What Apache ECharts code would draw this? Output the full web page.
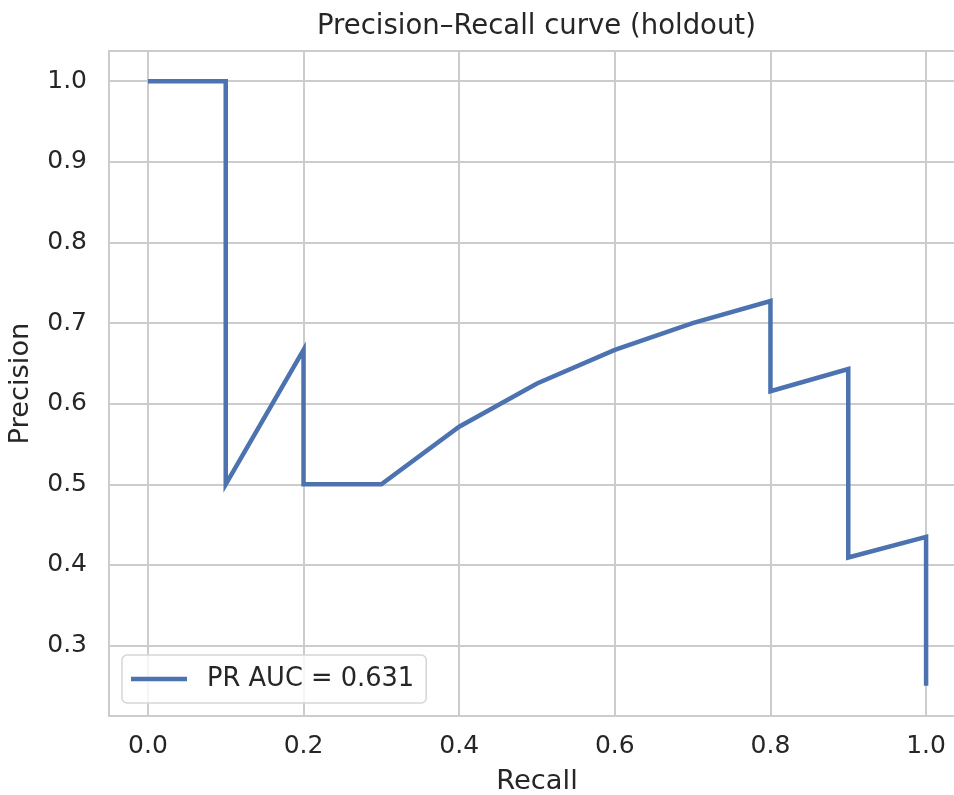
<!DOCTYPE html>
<html>
<head>
<meta charset="utf-8">
<script src="https://cdn.jsdelivr.net/npm/echarts@6/dist/echarts.min.js"></script>
<style>
  html, body { margin: 0; padding: 0; background: #ffffff; }
  #chart { width: 954px; height: 795px; }
</style>
</head>
<body>
<div id="chart"></div>
<script>
// Precision–recall points on the holdout set (recall, precision)
const recall = [0.0, 0.1, 0.1, 0.2, 0.2, 0.3, 0.4, 0.5, 0.6, 0.7, 0.8, 0.8, 0.9, 0.9, 1.0, 1.0];
const precision = [1.0, 1.0, 0.5, 0.6667, 0.5, 0.5, 0.5714, 0.625, 0.6667, 0.7, 0.7273, 0.6154, 0.6429, 0.4091, 0.4348, 0.25];
const xTicks = [0.0, 0.2, 0.4, 0.6, 0.8, 1.0];
const yTicks = [0.3, 0.4, 0.5, 0.6, 0.7, 0.8, 0.9, 1.0];
const seriesName = 'PR AUC = 0.631';
const chartTitle = 'Precision–Recall curve (holdout)';

const FONT = 'DejaVu Sans';
const TEXT = '#262626';
const GRID = '#cccccc';
const BLUE = '#4c72b0';

const points = recall.map((r, i) => [r, precision[i]]);
const fmt = v => Number(v).toFixed(1);

const chart = echarts.init(document.getElementById('chart'), null, { renderer: 'canvas' });
chart.setOption({
  animation: false,
  backgroundColor: '#ffffff',
  title: {
    text: chartTitle,
    left: 312,
    top: 8,
    textStyle: { fontFamily: FONT, fontSize: 27.5, fontWeight: 'normal', color: TEXT }
  },
  grid: {
    left: 109, top: 51, width: 856, height: 665,
    containLabel: false, outerBoundsMode: 'none',
    show: true, borderColor: GRID, borderWidth: 2, backgroundColor: 'transparent'
  },
  legend: {
    left: 122, top: 655,
    orient: 'vertical',
    padding: [11, 12, 11, 9],
    backgroundColor: 'rgba(255,255,255,0.8)',
    borderColor: '#d6d6d6', borderWidth: 1.5, borderRadius: 5,
    icon: 'rect', itemWidth: 56, itemHeight: 4.5,
    textStyle: { fontFamily: FONT, fontSize: 25.7, color: TEXT, padding: [0, 0, 0, 15] },
    data: [seriesName]
  },
  xAxis: {
    type: 'value', min: -0.05, max: 1.05,
    name: 'Recall', nameLocation: 'middle', nameGap: 52,
    nameTextStyle: { fontFamily: FONT, fontSize: 27.3, color: TEXT },
    axisLine: { show: false },
    axisTick: { show: false, customValues: xTicks },
    axisLabel: { customValues: xTicks, formatter: fmt, margin: 18, fontFamily: FONT, fontSize: 25, color: TEXT },
    splitLine: { show: true, lineStyle: { color: GRID, width: 2 } }
  },
  yAxis: {
    type: 'value', min: 0.2125, max: 1.0375,
    name: 'Precision', nameLocation: 'middle', nameGap: 75,
    nameTextStyle: { fontFamily: FONT, fontSize: 27.3, color: TEXT },
    axisLine: { show: false },
    axisTick: { show: false, customValues: yTicks },
    axisLabel: { customValues: yTicks, formatter: fmt, margin: 22, fontFamily: FONT, fontSize: 25, color: TEXT },
    splitLine: { show: true, lineStyle: { color: GRID, width: 2 } }
  },
  series: [{
    name: seriesName,
    type: 'line',
    data: points,
    symbol: 'none',
    color: BLUE,
    lineStyle: { color: BLUE, width: 4.5, cap: 'butt', join: 'miter' },
    z: 3
  }]
});
</script>
</body>
</html>
